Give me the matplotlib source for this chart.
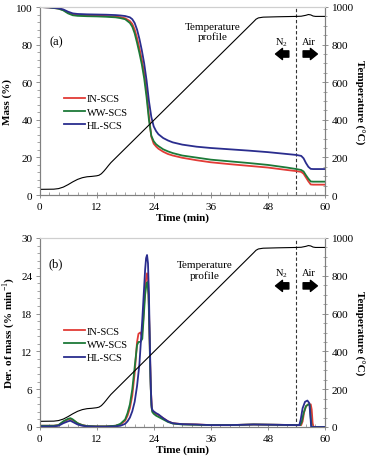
import matplotlib
matplotlib.use("Agg")
import matplotlib.pyplot as plt
from matplotlib.ticker import MultipleLocator

plt.rcParams['font.family'] = ['Liberation Serif', 'DejaVu Serif']
plt.rcParams['mathtext.fontset'] = 'custom'
plt.rcParams['mathtext.rm'] = 'Liberation Serif'
plt.rcParams['mathtext.bf'] = 'Liberation Serif:bold'

# ---------------- data ----------------
series_names = ["IN-SCS", "WW-SCS", "HL-SCS"]

# Temperature profile (min, degC)
temp_time = [0, 3, 4, 5, 6, 7, 8, 9, 10, 11, 12, 12.5, 13, 13.5, 14, 14.5, 15, 16, 17, 20,
             25, 30, 35, 40, 45, 45.5, 46, 47, 50, 54, 55, 56, 56.5, 57, 57.5, 58, 60]
temp_vals = [30, 31, 34, 42, 55, 70, 83, 92, 97, 99, 102, 105, 113, 126, 141, 157, 172,
             197, 222, 297, 422, 547, 672, 797, 922, 935, 942, 946, 948, 950, 951, 956,
             960, 958, 952, 950, 950]

# Mass (%) - panel (a)
mass_time = [0, 2, 4, 5, 6, 7, 8, 10, 12, 14, 16, 17, 18, 19, 19.5, 20, 20.5, 21, 21.5,
             22, 22.5, 23, 23.5, 24, 24.5, 25, 26, 27, 28, 30, 33, 36, 40, 44, 48, 52,
             54, 55, 55.5, 56, 56.5, 57, 57.5, 60]
mass_in = [100, 99.8, 99.2, 98.4, 97.0, 96.0, 95.7, 95.5, 95.4, 95.2, 94.9, 94.6, 94.0,
           92.5, 91.0, 88.0, 83.5, 78.0, 72.0, 65.0, 55.0, 42.0, 31.0, 27.3, 25.8, 24.6,
           23.0, 21.8, 21.0, 19.8, 18.5, 17.4, 16.4, 15.5, 14.6, 13.3, 12.7, 12.3, 11.3,
           9.3, 7.3, 5.6, 5.5, 5.5]
mass_ww = [100, 99.8, 99.1, 98.2, 96.6, 95.6, 95.3, 95.1, 95.0, 94.8, 94.5, 94.1, 93.5,
           91.5, 89.5, 86.0, 81.0, 75.5, 69.5, 62.0, 52.0, 40.0, 31.5, 28.6, 27.0, 26.0,
           24.3, 23.2, 22.3, 21.0, 19.9, 18.8, 17.9, 17.0, 16.0, 14.6, 13.8, 13.3, 12.5,
           10.5, 8.7, 7.2, 7.1, 7.1]
mass_hl = [100, 99.8, 99.3, 98.7, 97.5, 96.6, 96.3, 96.1, 96.0, 95.9, 95.7, 95.5, 95.2,
           94.5, 93.5, 91.5, 88.0, 83.0, 77.0, 70.0, 61.0, 50.0, 41.5, 36.5, 34.0, 32.3,
           30.3, 29.0, 28.0, 26.8, 25.7, 25.0, 24.3, 23.6, 22.8, 21.8, 21.3, 20.8, 19.5,
           17.0, 15.0, 13.9, 13.8, 13.8]

# Derivative of mass (% min-1) - panel (b)
dtg_in_time = [0, 3, 4, 5, 6, 6.5, 7, 8, 9, 10, 12, 14, 16, 17, 18, 18.5, 19, 19.5, 20,
               20.5, 20.8, 21.2, 21.5, 21.8, 22.1, 22.4, 22.6, 22.8, 23.0, 23.2, 23.4,
               23.6, 23.8, 24.5, 25, 26, 27, 28, 30, 33, 36, 40, 45, 50, 54, 55, 55.3,
               55.6, 56, 56.5, 57, 57.2, 57.4, 57.6, 60]
dtg_in = [0.2, 0.2, 0.3, 0.8, 1.2, 1.3, 1.1, 0.6, 0.3, 0.15, 0.1, 0.1, 0.2, 0.4, 1.0, 1.8,
          3.0, 5.0, 8.5, 13.5, 14.8, 15.0, 14.5, 17.0, 21.0, 23.5, 24.4, 23.5, 19.0, 12.0,
          6.0, 3.0, 2.4, 2.1, 1.9, 1.4, 0.9, 0.6, 0.45, 0.4, 0.3, 0.3, 0.4, 0.35, 0.3, 0.3,
          0.9, 2.3, 3.3, 3.6, 3.6, 2.8, 0.6, 0.0, 0.0]

dtg_ww_time = [0, 3, 4, 5, 6, 6.5, 7, 8, 9, 10, 12, 14, 16, 17, 18, 18.5, 19, 19.5, 20,
               20.5, 20.8, 21.2, 21.6, 21.9, 22.2, 22.5, 22.7, 22.9, 23.1, 23.3, 23.5,
               23.7, 24.0, 24.5, 25, 26, 27, 28, 30, 33, 36, 40, 45, 50, 54, 54.8, 55.1,
               55.5, 56, 56.5, 56.8, 57.0, 57.2, 60]
dtg_ww = [0.2, 0.2, 0.3, 0.9, 1.3, 1.4, 1.2, 0.6, 0.3, 0.15, 0.1, 0.1, 0.2, 0.5, 1.2, 2.2,
          3.6, 6.0, 9.5, 13.0, 13.5, 13.5, 14.0, 17.5, 21.0, 22.8, 23.0, 21.0, 15.0, 8.0,
          3.5, 2.4, 2.1, 1.8, 1.6, 1.2, 0.8, 0.55, 0.4, 0.35, 0.3, 0.3, 0.4, 0.35, 0.3, 0.3,
          0.8, 2.2, 3.3, 3.6, 3.5, 1.5, 0.0, 0.0]

dtg_hl_time = [0, 3, 4, 5, 6, 6.5, 7, 8, 9, 10, 12, 14, 16, 17, 18, 18.5, 19, 19.5, 20,
               20.5, 21.0, 21.3, 21.6, 21.9, 22.2, 22.4, 22.6, 22.8, 23.0, 23.2, 23.4,
               23.6, 23.8, 24.5, 25, 26, 27, 28, 30, 33, 36, 40, 45, 50, 54, 54.6, 54.9,
               55.3, 55.8, 56.3, 56.7, 56.9, 57.1, 60]
dtg_hl = [0.1, 0.1, 0.2, 0.6, 0.9, 1.0, 0.8, 0.4, 0.2, 0.1, 0.05, 0.05, 0.1, 0.2, 0.5, 0.9,
          1.5, 2.5, 4.0, 6.5, 10.0, 13.5, 17.0, 21.0, 25.0, 26.8, 27.3, 26.0, 21.0, 13.0,
          6.0, 3.0, 2.6, 2.2, 2.0, 1.4, 0.9, 0.6, 0.45, 0.4, 0.3, 0.3, 0.4, 0.35, 0.3, 0.3,
          1.2, 3.0, 4.0, 4.2, 3.8, 2.0, 0.0, 0.0]

colors = ["#e23b36", "#1c7a38", "#2a2d8e"]
GRAY = "#808080"
FS = 8

fig = plt.figure(figsize=(3.69, 4.64), dpi=100)
L, R = 39.5 / 369, 325 / 369
ax_a = fig.add_axes([L, 1 - 196 / 464, R - L, 188 / 464])
ax_b = fig.add_axes([L, 1 - 428 / 464, R - L, 189 / 464])


def style(ax, ax2, ymax, ymaj, ymin):
    ax.set_xlim(0, 60)
    ax.set_ylim(0, ymax)
    ax2.set_ylim(0, 1000)
    ax.xaxis.set_major_locator(MultipleLocator(12))
    ax.xaxis.set_minor_locator(MultipleLocator(2))
    ax.yaxis.set_major_locator(MultipleLocator(ymaj))
    ax.yaxis.set_minor_locator(MultipleLocator(ymin))
    ax2.yaxis.set_major_locator(MultipleLocator(200))
    ax2.yaxis.set_minor_locator(MultipleLocator(50))
    for a in (ax, ax2):
        for s in a.spines.values():
            s.set_color(GRAY)
            s.set_linewidth(0.8)
        a.spines['top'].set_color('#cfcfcf')
    ax.tick_params(axis='x', which='major', direction='inout', length=4, width=0.6,
                   color=GRAY, labelsize=FS, pad=3)
    ax.tick_params(axis='x', which='minor', direction='in', length=2, width=0.5, color=GRAY)
    ax.tick_params(axis='y', which='major', direction='out', length=3, width=0.6,
                   color=GRAY, labelsize=FS, pad=2)
    ax.tick_params(axis='y', which='minor', direction='out', length=2, width=0.5, color=GRAY)
    ax2.tick_params(axis='y', which='major', direction='inout', length=4, width=0.6,
                    color=GRAY, labelsize=FS, pad=3)
    ax2.tick_params(axis='y', which='minor', direction='inout', length=2.5, width=0.5,
                    color=GRAY)
    ax.set_xlabel("Time (min)", fontsize=FS, fontweight='bold', labelpad=1)
    ax2.set_ylabel("Temperature (\u00b0C)", fontsize=FS, fontweight='bold',
                   rotation=270, va='center', ha='center')
    ax2.yaxis.set_label_coords(1.118, 0.5)
    ax.axvline(54, color='#333333', lw=0.8, ls=(0, (3, 2)), zorder=1)


# ---------------- panel (a) ----------------
ax_a2 = ax_a.twinx()
for name, vals, c in zip(series_names, [mass_in, mass_ww, mass_hl], colors):
    ax_a.plot(mass_time, vals, color=c, lw=1.3, label=name, zorder=3)
ax_a2.plot(temp_time, temp_vals, color='black', lw=0.8)
style(ax_a, ax_a2, 100, 20, 4)
ax_a.set_ylabel("Mass (%)", fontsize=FS, fontweight='bold', labelpad=3)
ax_a.text(3.6, 82, "(a)", fontsize=9, ha='center', va='center')
ax_a.text(36.4, 87, "Temperature\nprofile", fontsize=FS, ha='center', va='center',
          linespacing=1.1)
ax_a.legend(loc='upper left', bbox_to_anchor=(0.085, 0.538), frameon=False, fontsize=7.5,
            handlelength=2.0, handletextpad=0.2, labelspacing=0.4, borderpad=0,
            borderaxespad=0)

# ---------------- panel (b) ----------------
ax_b2 = ax_b.twinx()
for name, tt, vals, c in zip(series_names, [dtg_in_time, dtg_ww_time, dtg_hl_time],
                             [dtg_in, dtg_ww, dtg_hl], colors):
    ax_b.plot(tt, vals, color=c, lw=1.3, label=name, zorder=3)
ax_b2.plot(temp_time, temp_vals, color='black', lw=0.8)
style(ax_b, ax_b2, 30, 6, 1.2)
ax_b.set_ylabel("Der. of mass (% min$^{-1}$)", fontsize=FS, fontweight='bold', labelpad=3)
ax_b.text(3.4, 26, "(b)", fontsize=9, ha='center', va='center')
ax_b.text(34.7, 24.9, "Temperature\nprofile", fontsize=FS, ha='center', va='center',
          linespacing=1.1)
ax_b.legend(loc='upper left', bbox_to_anchor=(0.085, 0.533), frameon=False, fontsize=7.5,
            handlelength=2.0, handletextpad=0.2, labelspacing=0.4, borderpad=0,
            borderaxespad=0)

# N2 / Air annotations
for ax, ytxt, yarr in [(ax_a, 81.5, 75.0), (ax_b, 24.5, 22.4)]:
    ax.text(50.8, ytxt, "N$_2$", fontsize=7.5, ha='center', va='center')
    ax.text(56.7, ytxt, "Air", fontsize=7.5, ha='center', va='center')
    ax.annotate("", xy=(49.6, yarr), xytext=(52.4, yarr),
                arrowprops=dict(arrowstyle='simple,head_length=0.5,head_width=0.8,tail_width=0.45',
                                color='black', shrinkA=0, shrinkB=0))
    ax.annotate("", xy=(58.4, yarr), xytext=(55.4, yarr),
                arrowprops=dict(arrowstyle='simple,head_length=0.5,head_width=0.8,tail_width=0.45',
                                color='black', shrinkA=0, shrinkB=0))

fig.savefig("out.png", dpi=100)
